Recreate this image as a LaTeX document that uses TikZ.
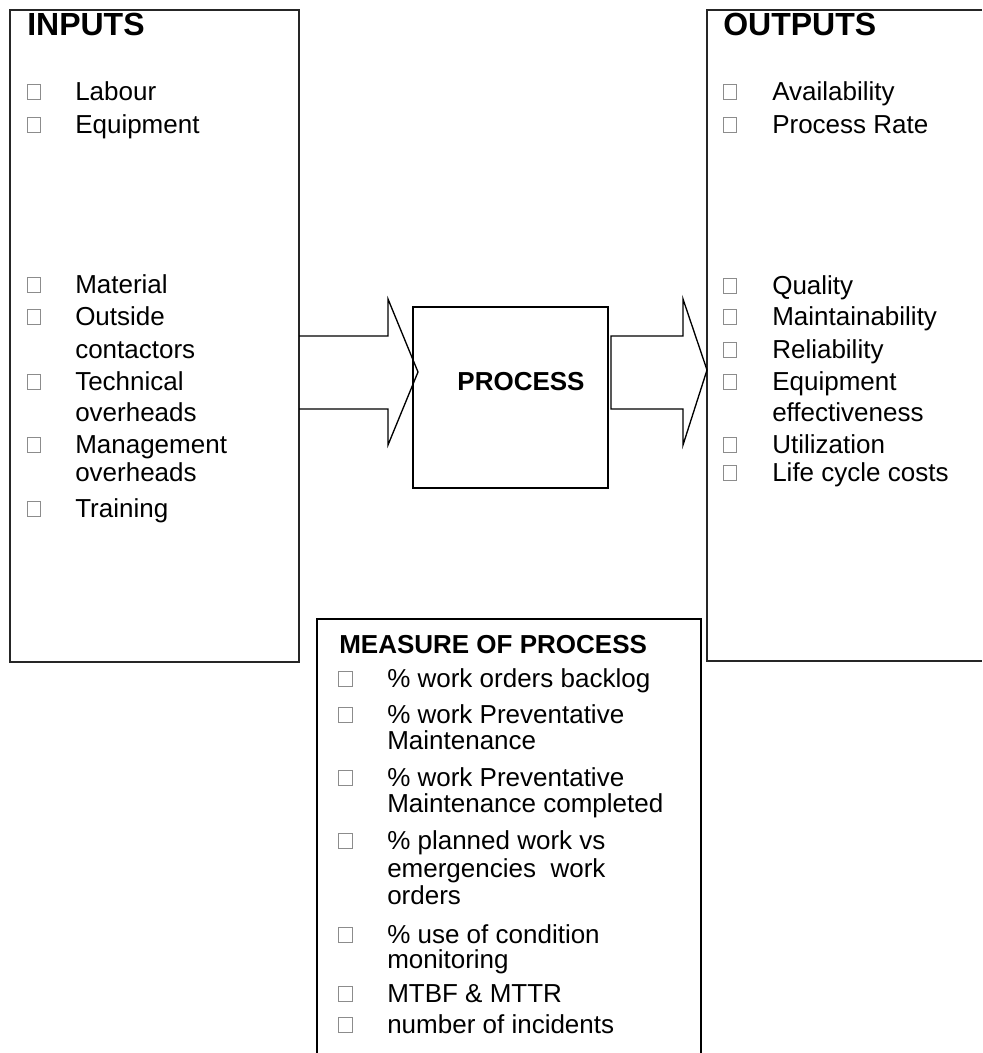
\documentclass[tikz,border=0pt]{standalone}
\usepackage{fontspec}
\setmainfont{Liberation Sans}
\usetikzlibrary{positioning}

\tikzset{
  itemtext/.style={anchor=base west, inner sep=0pt, font=\fontsize{19.5}{23}\selectfont},
  headtext/.style={anchor=base west, inner sep=0pt, font=\fontsize{24}{28}\selectfont\bfseries},
  bulletbox/.style={draw=black!45, line width=0.4pt},
  frame/.style={draw=black!85, line width=1.3pt},
  blockarrow/.style={draw=black, line width=1pt, line join=miter}
}

\begin{document}
\begin{tikzpicture}[x=0.75pt, y=-0.75pt]
  \useasboundingbox (0,0) rectangle (982,1053);

  % Inputs box
  \draw[frame] (10,10) rectangle (299,662);
  \node[headtext] (inputs) at (27,35) {INPUTS};
  \foreach \y in {100,133,293,325,390,453,517}
    \draw[bulletbox] (27,\y-16) rectangle (40,\y-1);
  \foreach \t/\y in {Labour/100, Equipment/133, Material/293, Outside/325,
                     contactors/358, Technical/390, overheads/421,
                     Management/453, overheads/481, Training/517}
    \node[itemtext] (in\y) at (75,\y) {\t};

  % Outputs box (open on the right)
  \draw[frame] (982,10) -- (707,10) -- (707,661) -- (982,661);
  \node[headtext] (outputs) at (723,35) {OUTPUTS};
  \foreach \y in {100,133,294,325,358,390,453,481}
    \draw[bulletbox] (723,\y-16) rectangle (736,\y-1);
  \foreach \t/\y in {Availability/100, Process Rate/133, Quality/294,
                     Maintainability/325, Reliability/358, Equipment/390,
                     effectiveness/421, Utilization/453, Life cycle costs/481}
    \node[itemtext] (out\y) at (772,\y) {\t};

  % Process
  \draw[line width=2pt] (413,307) rectangle (608,488);
  \node[itemtext, anchor=base, font=\fontsize{19.5}{23}\selectfont\bfseries]
       (process) at (521,390) {PROCESS};

  % Block arrows
  \draw[blockarrow] (299,336) -- (388,336) -- (388,299) -- (418,372)
       -- (388,445) -- (388,409) -- (299,409);
  \draw[blockarrow] (611,336) -- (683,336) -- (683,299) -- (707,370)
       -- (683,445) -- (683,409) -- (611,409) -- cycle;

  % Measure of process box (open at the bottom)
  \draw[line width=1pt] (317,1053) -- (317,619) -- (701,619) -- (701,1053);
  \node[itemtext, font=\fontsize{19.5}{23}\selectfont\bfseries]
       (measure) at (339,653) {MEASURE OF PROCESS};
  \foreach \y in {687,723,786,849,943,1002,1033}
    \draw[bulletbox] (338,\y-16) rectangle (352,\y-1);
  \foreach \t/\y in {\% work orders backlog/687, \% work Preventative/723,
                     Maintenance/749, \% work Preventative/786,
                     Maintenance completed/812, \% planned work vs/849,
                     emergencies~ work/877, orders/904,
                     \% use of condition/943, monitoring/968,
                     MTBF \& MTTR/1002, number of incidents/1033}
    \node[itemtext] (m\y) at (387,\y) {\t};
\end{tikzpicture}
\end{document}
